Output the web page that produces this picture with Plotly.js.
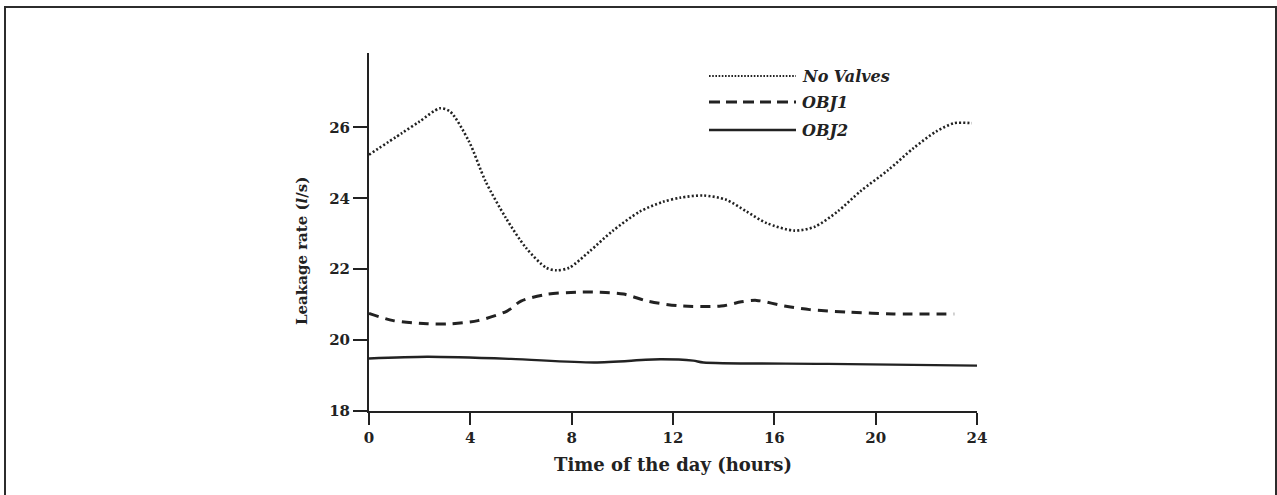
<!DOCTYPE html>
<html>
<head>
<meta charset="utf-8">
<script src="https://cdn.plot.ly/plotly-3.0.1.min.js"></script>
<style>
  html, body { margin: 0; padding: 0; background: #ffffff; }
  #chart { width: 1277px; height: 495px; }
</style>
</head>
<body>
<div id="chart"></div>
<script>
// Hourly leakage rate (l/s) over one day for three valve settings
const SERIES_NAMES = ['No Valves', 'OBJ1', 'OBJ2'];

const NO_VALVES_HOURS = [0, 1.3, 2.0, 2.8, 3.2, 3.95, 4.6, 5.4, 6.2, 7.0, 7.4, 7.9, 8.7, 9.6, 10.7, 11.6, 12.3, 13.2, 14.1, 14.9, 15.7, 16.8, 17.6, 18.5, 19.4, 20.5, 21.5, 22.4, 23.1, 23.8];
const NO_VALVES = [25.23, 25.84, 26.17, 26.54, 26.45, 25.6, 24.48, 23.45, 22.6, 22.04, 21.97, 22.04, 22.5, 23.07, 23.63, 23.9, 24.02, 24.08, 23.96, 23.63, 23.3, 23.09, 23.2, 23.63, 24.2, 24.8, 25.42, 25.89, 26.12, 26.12];

const OBJ1_HOURS = [0, 0.96, 2.3, 3.2, 4.3, 5.45, 6.0, 7.0, 8.2, 9.1, 10.05, 11.0, 12.2, 13.9, 14.7, 15.3, 16.4, 17.4, 18.9, 20.7, 23.1];
const OBJ1 = [20.75, 20.55, 20.46, 20.46, 20.55, 20.82, 21.1, 21.29, 21.35, 21.35, 21.3, 21.1, 20.97, 20.96, 21.08, 21.12, 20.96, 20.86, 20.79, 20.74, 20.74];

const OBJ2_HOURS = [0, 2.3, 5.6, 8.9, 11.5, 12.8, 13.2, 18.1, 24];
const OBJ2 = [19.48, 19.53, 19.47, 19.37, 19.46, 19.42, 19.37, 19.33, 19.28];

const X_TICKS = [0, 4, 8, 12, 16, 20, 24];
const Y_TICKS = [18, 20, 22, 24, 26];

const X_TITLE = 'Time of the day (hours)';
const Y_TITLE = 'Leakage rate (<i>l</i>/s)';

// Page geometry and helpers to place decorations in paper units
const W = 1277, H = 495;
const M = { l: 369, r: 300, t: 53, b: 84 };
const PW = W - M.l - M.r, PH = H - M.t - M.b;
const px = x => (x - M.l) / PW;
const py = y => (H - M.b - y) / PH;

const INK = '#222222';
const SERIF = 'DejaVu Serif, Liberation Serif, serif';

const STYLES = [
  { dash: '2px,2.2px', width: 2.6 },
  { dash: '10px,7px', width: 3 },
  { dash: 'solid', width: 2.4 }
];

const traces = [
  { x: NO_VALVES_HOURS, y: NO_VALVES },
  { x: OBJ1_HOURS, y: OBJ1 },
  { x: OBJ2_HOURS, y: OBJ2 }
].map((s, i) => ({
  type: 'scatter',
  mode: 'lines',
  name: SERIES_NAMES[i],
  x: s.x,
  y: s.y,
  line: { color: INK, width: STYLES[i].width, dash: STYLES[i].dash, shape: 'spline', smoothing: 0.8 },
  hoverinfo: 'x+y+name'
}));

// Hand-built key: long line samples followed by italic names
const KEY_ROWS = [76, 102, 130];
const KEY_SAMPLES = [
  { dash: '1.6px,1.6px', width: 2 },
  { dash: '11px,6px', width: 3 },
  { dash: 'solid', width: 2.6 }
];
const shapes = [];
const annotations = [];
KEY_ROWS.forEach((row, i) => {
  shapes.push({
    type: 'line', xref: 'paper', yref: 'paper',
    x0: px(709), x1: px(796), y0: py(row), y1: py(row),
    line: { color: INK, width: KEY_SAMPLES[i].width, dash: KEY_SAMPLES[i].dash }
  });
  annotations.push({
    xref: 'paper', yref: 'paper', x: px(800), y: py(row),
    xanchor: 'left', yanchor: 'middle', showarrow: false,
    text: SERIES_NAMES[i],
    font: { family: SERIF, size: 16, color: INK, weight: 'bold', style: 'italic' }
  });
});

// Outer frame around the figure
shapes.push({
  type: 'rect', xref: 'paper', yref: 'paper',
  x0: px(5), x1: px(1276), y0: py(520), y1: py(7),
  line: { color: '#2c2c2c', width: 2 }, fillcolor: 'rgba(0,0,0,0)'
});

// Vertical axis title
annotations.push({
  xref: 'paper', yref: 'paper', x: px(302), y: py(251),
  xanchor: 'center', yanchor: 'middle', showarrow: false, textangle: -90,
  text: Y_TITLE,
  font: { family: SERIF, size: 15, color: INK, weight: 'bold' }
});

const tickFont = { family: SERIF, size: 15, color: INK, weight: 'bold' };

const layout = {
  width: W,
  height: H,
  margin: M,
  paper_bgcolor: '#ffffff',
  plot_bgcolor: '#ffffff',
  showlegend: false,
  xaxis: {
    range: [0, 24],
    tickvals: X_TICKS,
    ticktext: X_TICKS.map(String),
    ticks: 'outside', ticklen: 12, tickwidth: 2, tickcolor: INK,
    showline: true, linewidth: 2, linecolor: INK,
    showgrid: false, zeroline: false,
    tickfont: tickFont,
    title: { text: X_TITLE, standoff: 12, font: { family: SERIF, size: 18, color: INK, weight: 'bold' } }
  },
  yaxis: {
    range: [18, 28.1],
    tickvals: Y_TICKS,
    ticktext: Y_TICKS.map(String),
    ticks: 'outside', ticklen: 14, tickwidth: 2, tickcolor: INK,
    showline: true, linewidth: 2, linecolor: INK,
    showgrid: false, zeroline: false,
    tickfont: tickFont
  },
  shapes: shapes,
  annotations: annotations
};

Plotly.newPlot('chart', traces, layout, { displayModeBar: false, staticPlot: true });
</script>
</body>
</html>
